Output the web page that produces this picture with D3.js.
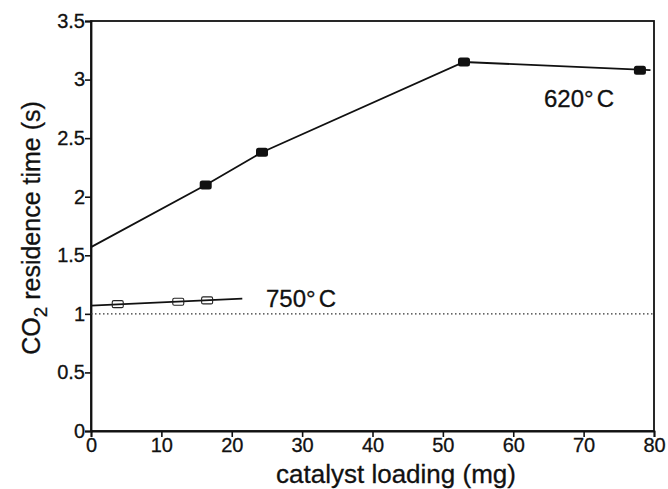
<!DOCTYPE html>
<html>
<head>
<meta charset="utf-8">
<script src="https://cdn.jsdelivr.net/npm/d3@7"></script>
<style>
  html, body { margin: 0; padding: 0; background: #fff; }
  svg { display: block; }
  text { font-family: "Liberation Sans", Arial, Helvetica, sans-serif; fill: #111; stroke: #111; stroke-width: 0.3; }
</style>
</head>
<body>
<svg id="chart" width="668" height="489"></svg>
<script>
// Tick values for both axes
const xTicks = [0, 10, 20, 30, 40, 50, 60, 70, 80];
const yTicks = [0, 0.5, 1, 1.5, 2, 2.5, 3, 3.5];

// 620 °C series: measured points and the drawn trend line
const load620 = [16.3, 24.3, 53, 78];
const time620 = [2.10, 2.38, 3.15, 3.08];
const line620X = [0, 16.3, 24.3, 53, 79.5];
const line620Y = [1.57, 2.10, 2.38, 3.15, 3.08];

// 750 °C series: measured points and the fitted line
const load750 = [3.8, 12.4, 16.5];
const time750 = [1.083, 1.103, 1.115];
const line750X = [0, 21.5];
const line750Y = [1.07, 1.13];

// Reference level (residence time without catalyst)
const refLevel = 1;

const svg = d3.select("#chart");
const plot = { left: 91, right: 654, top: 21, bottom: 431 };

const x = d3.scaleLinear().domain([0, 80]).range([plot.left, plot.right]);
const y = d3.scaleLinear().domain([0, 3.5]).range([plot.bottom, plot.top]);

// Frame
svg.append("rect")
  .attr("x", plot.left).attr("y", plot.top)
  .attr("width", plot.right - plot.left).attr("height", plot.bottom - plot.top)
  .attr("fill", "none").attr("stroke", "#111").attr("stroke-width", 1.8);

// Axes
const xAxis = d3.axisBottom(x).tickValues(xTicks).tickSize(6).tickPadding(1).tickFormat(d3.format("d"));
const yAxis = d3.axisLeft(y).tickValues(yTicks).tickSize(6).tickPadding(0).tickFormat(d => String(d));

const gx = svg.append("g").attr("transform", `translate(0,${plot.bottom})`).call(xAxis);
const gy = svg.append("g").attr("transform", `translate(${plot.left},0)`).call(yAxis);

[gx, gy].forEach(g => {
  g.select(".domain").attr("stroke", "#111").attr("stroke-width", 1.8);
  g.selectAll(".tick line").attr("stroke", "#111").attr("stroke-width", 1.6);
  g.selectAll(".tick text")
    .style("font-family", "'Liberation Sans', Arial, sans-serif")
    .style("font-size", "20px").attr("fill", "#111");
});

// Axis titles
svg.append("text")
  .attr("x", 396).attr("y", 483)
  .attr("text-anchor", "middle")
  .style("font-size", "26px")
  .text("catalyst loading (mg)");

const yt = svg.append("text")
  .attr("transform", `translate(40,228) rotate(-90)`)
  .attr("text-anchor", "middle")
  .style("font-size", "25px");
yt.append("tspan").text("CO");
yt.append("tspan").attr("dy", 7).style("font-size", "19px").text("2");
yt.append("tspan").attr("dy", -7).text(" residence time (s)");

// Reference dotted line
svg.append("line")
  .attr("x1", x(0)).attr("x2", x(80))
  .attr("y1", y(refLevel)).attr("y2", y(refLevel))
  .attr("stroke", "#333").attr("stroke-width", 1.1)
  .attr("stroke-dasharray", "1.5,2.5");

const lineGen = d3.line().x(d => x(d[0])).y(d => y(d[1]));

// 620 °C line and filled markers
svg.append("path")
  .datum(line620X.map((v, i) => [v, line620Y[i]]))
  .attr("d", lineGen)
  .attr("fill", "none").attr("stroke", "#111").attr("stroke-width", 1.8);

svg.selectAll(".m620")
  .data(load620.map((v, i) => [v, time620[i]]))
  .join("rect")
  .attr("class", "m620")
  .attr("x", d => x(d[0]) - 6).attr("y", d => y(d[1]) - 4.5)
  .attr("width", 12).attr("height", 9).attr("rx", 2.5)
  .attr("fill", "#111");

// 750 °C line and open markers
svg.append("path")
  .datum(line750X.map((v, i) => [v, line750Y[i]]))
  .attr("d", lineGen)
  .attr("fill", "none").attr("stroke", "#111").attr("stroke-width", 1.8);

svg.selectAll(".m750")
  .data(load750.map((v, i) => [v, time750[i]]))
  .join("rect")
  .attr("class", "m750")
  .attr("x", d => x(d[0]) - 5.5).attr("y", d => y(d[1]) - 3.5)
  .attr("width", 11).attr("height", 7).attr("rx", 1.5)
  .attr("fill", "none").attr("stroke", "#222").attr("stroke-width", 1.1);

// Series labels (degree sign set slightly apart from the C)
function tempLabel(px, py, t) {
  const el = svg.append("text").attr("x", px).attr("y", py).style("font-size", "24px");
  el.append("tspan").text(t + "°");
  el.append("tspan").attr("dx", 3).text("C");
}
tempLabel(544, 107, "620");
tempLabel(266, 307, "750");
</script>
</body>
</html>
